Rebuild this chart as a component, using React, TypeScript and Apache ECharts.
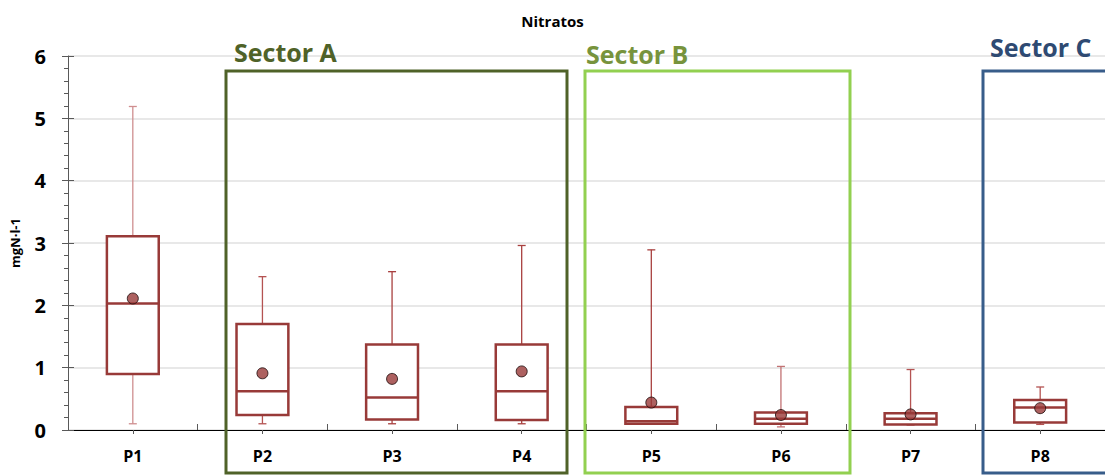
import React, { useEffect, useRef } from "react";
import * as echarts from "echarts";

const categories = ["P1", "P2", "P3", "P4", "P5", "P6", "P7", "P8"];
// [min, q1, median, q3, max]
const boxValues = [
  [0.1, 0.9, 2.03, 3.11, 5.19],
  [0.1, 0.24, 0.62, 1.7, 2.46],
  [0.1, 0.17, 0.52, 1.37, 2.54],
  [0.1, 0.16, 0.62, 1.37, 2.96],
  [0.1, 0.1, 0.14, 0.37, 2.89],
  [0.05, 0.1, 0.18, 0.28, 1.02],
  [0.08, 0.09, 0.18, 0.27, 0.97],
  [0.09, 0.12, 0.36, 0.48, 0.69],
];
const means = [2.11, 0.91, 0.82, 0.94, 0.44, 0.24, 0.25, 0.35];
const yTicks = { min: 0, max: 6, interval: 1 };

const FONT = "'Open Sans', 'Noto Sans', sans-serif";
const BOX_COLOR = "#983a38";
const whiskerColors = ["#cf8e8f", "#b45352", "#a8403f", "#a8403f", "#a8403f", "#c27273", "#b45352", "#b45352"];

export default function App() {
  const ref = useRef<HTMLDivElement>(null);
  useEffect(() => {
    if (!ref.current) return;
    const chart = echarts.init(ref.current, null, { renderer: "svg" });
    const boxData = boxValues.map((b, i) => [i, ...b]);
    const meanData = means.map((m, i) => [i, m]);
    chart.setOption({
      animation: false,
      textStyle: { fontFamily: FONT },
      title: {
        text: "Nitratos",
        left: "center",
        top: 8,
        textStyle: { fontFamily: FONT, fontSize: 15, fontWeight: "bold", color: "#000" },
      },
      grid: { left: 68, top: 56, bottom: 45, width: 1040 },
      xAxis: [
        {
          type: "category",
          data: categories,
          axisLine: { show: true, lineStyle: { color: "#000", width: 1 } },
          axisTick: { show: true, inside: true, length: 6, lineStyle: { color: "#595959" } },
          axisLabel: { fontFamily: FONT, fontSize: 16, fontWeight: "bold", color: "#000", margin: 18 },
          splitLine: { show: false },
        },
        {
          type: "category",
          data: categories,
          position: "bottom",
          axisLine: { show: false },
          axisTick: { show: true, alignWithLabel: true, length: 4, lineStyle: { color: "#595959" } },
          axisLabel: { show: false },
          splitLine: { show: false },
        },
      ],
      yAxis: [
        {
          type: "value",
          min: yTicks.min,
          max: yTicks.max,
          interval: yTicks.interval,
          name: "mgN·l-1",
          nameLocation: "middle",
          nameGap: 47,
          nameRotate: 90,
          nameTextStyle: { fontFamily: FONT, fontSize: 13, fontWeight: "bold", color: "#000" },
          axisLine: { show: true, lineStyle: { color: "#595959" } },
          axisTick: { show: true, length: 6, lineStyle: { color: "#595959" } },
          minorTick: { show: true, splitNumber: 5, length: 4, lineStyle: { color: "#595959" } },
          axisLabel: { fontFamily: FONT, fontSize: 20, fontWeight: "bold", color: "#000", margin: 22 },
          splitLine: { show: true, lineStyle: { color: "#e0e0e0", width: 1.5 } },
        },
        {
          type: "value",
          min: yTicks.min,
          max: yTicks.max,
          interval: yTicks.interval,
          position: "left",
          axisLine: { show: false },
          axisTick: { show: true, inside: true, length: 6, lineStyle: { color: "#595959" } },
          axisLabel: { show: false },
          splitLine: { show: false },
        },
      ],
      series: [
        {
          type: "custom",
          xAxisIndex: 0,
          yAxisIndex: 0,
          data: boxData,
          encode: { x: 0, y: [1, 2, 3, 4, 5] },
          renderItem: (params: any, api: any) => {
            const x = api.value(0);
            const pMin = api.coord([x, api.value(1)]);
            const pQ1 = api.coord([x, api.value(2)]);
            const pMed = api.coord([x, api.value(3)]);
            const pQ3 = api.coord([x, api.value(4)]);
            const pMax = api.coord([x, api.value(5)]);
            const bw = api.size([1, 0])[0] * 0.4;
            const cw = 4;
            const cx = pMed[0];
            const wc = whiskerColors[params.dataIndex] || BOX_COLOR;
            const ws = { stroke: wc, lineWidth: 1.3 };
            return {
              type: "group",
              children: [
                { type: "line", shape: { x1: cx, y1: pMax[1], x2: cx, y2: pQ3[1] }, style: ws },
                { type: "line", shape: { x1: cx, y1: pMin[1], x2: cx, y2: pQ1[1] }, style: ws },
                { type: "line", shape: { x1: cx - cw, y1: pMax[1], x2: cx + cw, y2: pMax[1] }, style: ws },
                { type: "line", shape: { x1: cx - cw, y1: pMin[1], x2: cx + cw, y2: pMin[1] }, style: ws },
                {
                  type: "rect",
                  shape: { x: cx - bw / 2, y: pQ3[1], width: bw, height: pQ1[1] - pQ3[1] },
                  style: { fill: "#fff", stroke: BOX_COLOR, lineWidth: 2.5 },
                },
                {
                  type: "line",
                  shape: { x1: cx - bw / 2, y1: pMed[1], x2: cx + bw / 2, y2: pMed[1] },
                  style: { stroke: BOX_COLOR, lineWidth: 2.5 },
                },
              ],
            };
          },
          z: 3,
        },
        {
          type: "scatter",
          xAxisIndex: 0,
          yAxisIndex: 0,
          data: meanData,
          symbol: "circle",
          symbolSize: 11,
          itemStyle: { color: BOX_COLOR, borderColor: "#1a0a0a", borderWidth: 1 },
          z: 4,
        },
      ],
      graphic: [
        {
          type: "rect",
          shape: { x: 226, y: 71, width: 341, height: 402 },
          style: { fill: "none", stroke: "#4f6228", lineWidth: 3 },
          z: 10,
        },
        {
          type: "text",
          x: 234,
          y: 52,
          style: { text: "Sector A", fill: "#4f6228", font: `bold 25px ${FONT}`, textVerticalAlign: "middle" },
          z: 10,
        },
        {
          type: "rect",
          shape: { x: 585, y: 71, width: 265, height: 402 },
          style: { fill: "none", stroke: "#92d050", lineWidth: 3 },
          z: 10,
        },
        {
          type: "text",
          x: 586,
          y: 54,
          style: { text: "Sector B", fill: "#77933c", font: `bold 25px ${FONT}`, textVerticalAlign: "middle" },
          z: 10,
        },
        {
          type: "rect",
          shape: { x: 983, y: 71, width: 140, height: 402 },
          style: { fill: "none", stroke: "#385d8a", lineWidth: 3 },
          z: 10,
        },
        {
          type: "text",
          x: 990,
          y: 47,
          style: { text: "Sector C", fill: "#2e4a72", font: `bold 25px ${FONT}`, textVerticalAlign: "middle" },
          z: 10,
        },
      ],
    });
    return () => chart.dispose();
  }, []);
  return (
    <div
      ref={ref}
      style={{ position: "fixed", left: 0, top: 0, width: 1105, height: 475, background: "#fff" }}
    />
  );
}
